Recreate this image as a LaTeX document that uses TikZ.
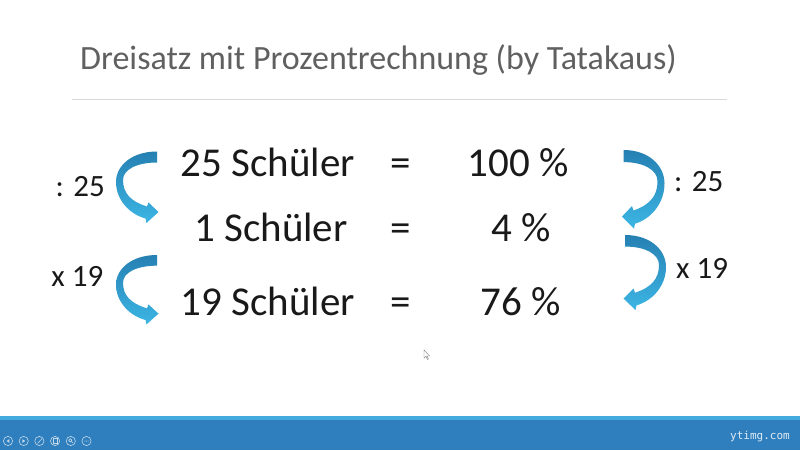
\documentclass[tikz,border=0pt]{standalone}
\usepackage{fontspec}
\setmainfont{Carlito}
\newfontfamily\wmfont{DejaVu Sans Mono}
\usetikzlibrary{positioning}
\definecolor{titelgrau}{RGB}{96,96,96}
\definecolor{liniengrau}{RGB}{217,217,217}
\definecolor{pfeildunkel}{RGB}{38,128,178}
\definecolor{pfeilhell}{RGB}{60,182,228}
\definecolor{leiste}{RGB}{47,127,190}
\definecolor{leistehell}{RGB}{66,170,222}
\tikzset{
  zeile/.style={anchor=base,font=\fontsize{41}{49}\selectfont,text=black!90,inner sep=0pt},
  rand/.style={anchor=base,font=\fontsize{31}{37}\selectfont,text=black!90,inner sep=0pt},
  pfeil/.style={top color=pfeildunkel,bottom color=pfeilhell,draw=none},
  knopf/.style={draw=white!70!leiste,line width=0.6pt},
  pics/bogen/.style={code={
    \path[pfeil] (0,0) .. controls (-25,0) and (-41,14) .. (-41,30.5)
      .. controls (-41,48) and (-28,62.5) .. (-11.5,67) -- (-10.5,71.5) -- (1.5,60.5)
      -- (-8.5,51) -- (-10,55) .. controls (-26,50) and (-34,42) .. (-34,28.5)
      .. controls (-34,18) and (-20,11) .. (0,11) -- cycle;
  }}
}
\begin{document}
\begin{tikzpicture}[x=1pt,y=-1pt]
  \useasboundingbox (0,0) rectangle (800,450);
  \fill[white] (0,0) rectangle (800,450);

  % Titel
  \node[anchor=base west,inner sep=0pt,text=titelgrau,font=\fontsize{34}{41}\selectfont]
    (titel) at (80,69) {Dreisatz mit Prozentrechnung (by Tatakaus)};
  \coordinate (la) at (72,99);
  \coordinate (lb) at (727,99);
  \draw[liniengrau,line width=1pt] (la) -- (lb);

  % Zeilen
  \node[zeile] (s25) at (268,176.5) {25 Schüler};
  \node[zeile] (g1) at (401,176.5) {=};
  \node[zeile] (p100) at (518,176.5) {100 \%};
  \node[zeile] (s1) at (271,241.5) {1 Schüler};
  \node[zeile] (g2) at (401,241.5) {=};
  \node[zeile] (p4) at (521,241.5) {4 \%};
  \node[zeile] (s19) at (268,315.5) {19 Schüler};
  \node[zeile] (g3) at (401,315.5) {=};
  \node[zeile] (p76) at (521,315.5) {76 \%};

  % Bogenpfeile
  \coordinate (lo) at (157,151.5);
  \coordinate (lu) at (157,255);
  \coordinate (ro) at (623.5,150);
  \coordinate (ru) at (625,235);
  \pic at (lo) {bogen};
  \pic[yscale=0.97] at (lu) {bogen};
  \pic[xscale=-1,yscale=1.1] at (ro) {bogen};
  \pic[xscale=-1,yscale=1.05] at (ru) {bogen};

  \node[rand,anchor=base east] (dl) at (105,196) {: 25};
  \node[rand,anchor=base east] (ml) at (103.5,286.5) {x 19};
  \node[rand,anchor=base west] (dr) at (674,191.5) {: 25};
  \node[rand,anchor=base west] (mr) at (676,278.5) {x 19};

  % Mauszeiger
  \draw[gray,fill=white,line width=0.4pt] (424,350) -- (424,358) -- (426,356.3) -- (427.5,359.5)
    -- (428.5,359) -- (427,356) -- (429.5,356) -- cycle;

  % Leiste unten
  \fill[leiste] (0,417) rectangle (800,450);
  \fill[leistehell] (0,416) rectangle (800,419.5);
  \foreach \i in {0,...,5}
    \draw[knopf] (8+\i*15.7,441) circle (4.6);
  \fill[white!70!leiste] (9.3,439.2) -- (6.5,441) -- (9.3,442.8) -- cycle;
  \fill[white!70!leiste] (22.4,439.2) -- (25.2,441) -- (22.4,442.8) -- cycle;
  \draw[knopf] (37.6,443.4) -- (42,438.6);
  \draw[knopf] (53.2,438.6) rectangle (57.4,443.4);
  \draw[knopf] (70.3,440.3) circle (1.6) (71.5,441.5) -- (73,443);
  \foreach \j in {-1.6,0,1.6}
    \fill[white!70!leiste] (86.5+\j,441) circle (0.5);
  \node[anchor=base east,inner sep=0pt,text=white!85!leiste,font=\wmfont\fontsize{11}{13}\selectfont]
    (wm) at (790,439) {ytimg.com};
\end{tikzpicture}
\end{document}
